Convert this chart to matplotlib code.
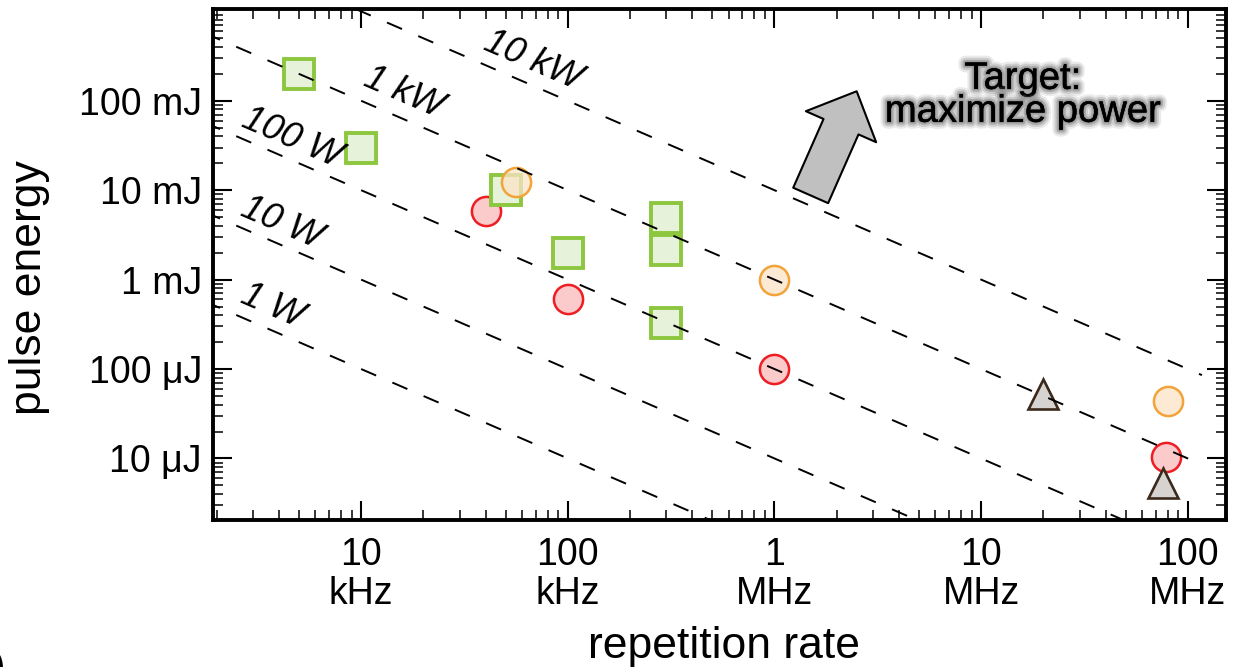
import numpy as np
import matplotlib
matplotlib.use('Agg')
import matplotlib.pyplot as plt
import matplotlib.patheffects as pe
from matplotlib.ticker import LogLocator, NullFormatter

plt.rcParams['font.family'] = ['Liberation Sans', 'DejaVu Sans']

# repetition rate (Hz) / pulse energy (J) for each group of lasers
green_f = [5e3, 1e4, 5e4, 1e5, 3e5, 3e5, 3e5]
green_E = [0.2, 0.03, 0.01, 2e-3, 4.9e-3, 2.15e-3, 3.3e-4]
red_f = [4e4, 1e5, 1e6, 7.8e7]
red_E = [5.8e-3, 6e-4, 1e-4, 1.05e-5]
orange_f = [5.6e4, 1e6, 8e7]
orange_E = [0.0123, 1e-3, 4.4e-5]
tri_f = [2e7, 7.6e7]
tri_E = [5.2e-5, 5.3e-6]

# constant average power lines E = P / f
power_levels = [1e4, 1e3, 1e2, 1e1, 1e0]
power_labels = ['10 kW', '1 kW', '100 W', '10 W', '1 W']
label_f = [6.8e4, 1.6e4, 4.6e3, 4.1e3, 3.7e3]
label_off = [25, 26, 22, 22, 24]

xticks = [1e4, 1e5, 1e6, 1e7, 1e8]
xticklabels = ['10\nkHz', '100\nkHz', '1\nMHz', '10\nMHz', '100\nMHz']
yticks = [1e-1, 1e-2, 1e-3, 1e-4, 1e-5]
yticklabels = ['100 mJ', '10 mJ', '1 mJ', '100 μJ', '10 μJ']

fig = plt.figure(figsize=(12.4, 6.67), dpi=100)
ax = fig.add_axes([0.1718, 0.2204, 0.8169, 0.7654])
ax.set_xscale('log')
ax.set_yscale('log')
ax.set_xlim(1.92e3, 1.53e8)
ax.set_ylim(2.05e-6, 1.05)

# markers
ax.plot(red_f, red_E, 'o', ms=21, mfc='#fbcaca', mec='#ee1d23', mew=1.8, ls='none', zorder=3)
ax.plot(green_f, green_E, 's', ms=21.5, mfc='#e6f2da', mec='#8dc63f', mew=2.8, ls='none', zorder=4)
ax.plot(orange_f, orange_E, 'o', ms=21, mfc=(0.99, 0.89, 0.78, 0.75), mec='#f2a33a', mew=1.8, ls='none', zorder=5)
ax.plot(tri_f, tri_E, '^', ms=21, mfc='#d6d3d0', mec='#3b2a1c', mew=1.9, ls='none', zorder=5)

# power lines
f_line = np.array([1.92e3, 1.17e8])
for P in power_levels:
    ax.plot(f_line, P / f_line, color='black', lw=1.4, ls=(4.5, (8.4, 9.1)), zorder=6)

p1 = ax.transData.transform((1e4, 1e-2))
p2 = ax.transData.transform((1e5, 1e-3))
ang = np.degrees(np.arctan2(p2[1] - p1[1], p2[0] - p1[0]))
for P, lbl, fl, off in zip(power_levels, power_labels, label_f, label_off):
    ax.annotate(lbl, xy=(fl, P / fl), xytext=(0, off), textcoords='offset pixels',
                rotation=ang, rotation_mode='anchor', ha='center', va='center',
                fontsize=26, style='italic', zorder=7)

# ticks
ax.set_xticks(xticks)
xl = ax.set_xticklabels(xticklabels)
for t in xl:
    t.set_linespacing(1.12)
ax.set_yticks(yticks)
ax.set_yticklabels(yticklabels)
ax.xaxis.set_minor_locator(LogLocator(base=10, subs=np.arange(2, 10), numticks=20))
ax.yaxis.set_minor_locator(LogLocator(base=10, subs=np.arange(2, 10), numticks=20))
ax.xaxis.set_minor_formatter(NullFormatter())
ax.yaxis.set_minor_formatter(NullFormatter())
ax.tick_params(which='both', direction='in', top=True, right=True)
ax.tick_params(which='major', length=13.7, width=1.5, labelsize=27)
ax.tick_params(which='minor', length=7.5, width=1.1)
ax.tick_params(axis='x', which='major', pad=12)
ax.tick_params(axis='y', which='major', pad=8)
for s in ax.spines.values():
    s.set_linewidth(2.8)

ax.set_xlabel('repetition rate', fontsize=32)
ax.xaxis.set_label_coords(0.5045, -0.208)
ax.set_ylabel('pulse energy', fontsize=32)
ax.yaxis.set_label_coords(-0.161, 0.455)

# target arrow and text
ax.annotate('', xy=(0.6354, 0.8398), xytext=(0.590, 0.6357),
            xycoords='axes fraction',
            arrowprops=dict(arrowstyle='simple,head_length=27.9,head_width=55.3,tail_width=27.5',
                            mutation_scale=1, fc='#c0c0c0', ec='black', lw=1.5,
                            shrinkA=0, shrinkB=0), zorder=7)
glow = [pe.withStroke(linewidth=10, foreground=(0.6, 0.6, 0.6, 0.2)),
        pe.withStroke(linewidth=7, foreground=(0.55, 0.55, 0.55, 0.3)),
        pe.withStroke(linewidth=4, foreground=(0.5, 0.5, 0.5, 0.45)),
        pe.withStroke(linewidth=1.5, foreground=(0.45, 0.45, 0.45, 0.5)),
        pe.Normal()]
ax.text(0.7996, 0.780, 'Target:\nmaximize power', transform=ax.transAxes,
        ha='center', va='baseline', multialignment='center', fontsize=27.5,
        linespacing=0.89, color='black', path_effects=glow, zorder=8)

# cut-off panel label at bottom left
fig.text(5 / 1240, -13 / 667, ')', ha='right', va='baseline', fontsize=32)

fig.savefig('out.png', dpi=100)
